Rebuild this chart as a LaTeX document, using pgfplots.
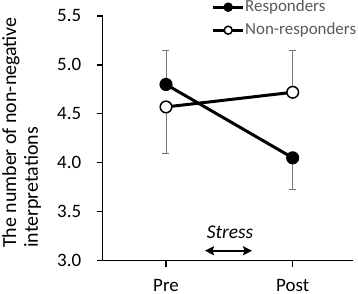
\documentclass[border=0pt]{standalone}
\usepackage{fontspec}
\setmainfont{Carlito}
\usepackage{pgfplots}
\pgfplotsset{compat=1.18}
\usetikzlibrary{arrows.meta}
\definecolor{lg}{HTML}{595959}
\definecolor{eb}{HTML}{777777}
\begin{document}
\begin{tikzpicture}
\begin{axis}[
  scale only axis, width=250.35bp, height=244.5bp,
  xmin=-0.5, xmax=1.476, ymin=3, ymax=5.5,
  axis lines*=left,
  axis line style={line width=1.5bp},
  xtick={0,1}, xticklabels={Pre,Post},
  ytick={3,3.5,4,4.5,5,5.5},
  tick align=outside, major tick length=6bp,
  tick style={line width=1.3bp, black},
  /pgf/number format/.cd, fixed, fixed zerofill, precision=1, assume math mode=true,
  /pgfplots/.cd,
  ticklabel style={font=\fontsize{19}{19}\selectfont},
  yticklabel style={xshift=-12bp},
  xticklabel style={yshift=-9bp},
  ylabel={The number of non-negative\\interpretations},
  ylabel style={align=left, font=\fontsize{20}{22}\selectfont, at={(axis description cs:-0.402,0.051)}, anchor=north west, inner sep=0pt},
  legend style={at={(axis description cs:0.4348,1.0716)}, anchor=north west, draw=none, fill=none, inner sep=0pt, font=\fontsize{17}{17}\selectfont, text=lg, nodes={inner sep=0.5bp, text height=12bp, text depth=4bp}, row sep=6bp},
  legend cell align=left,
  legend image code/.code={\draw[mark repeat=2, mark phase=2, #1, mark size=4bp] plot coordinates {(0bp,0bp) (15bp,0bp) (30bp,0bp)};},
]
\addplot[draw=none, forget plot, error bars/.cd, y dir=both, y explicit,
  error bar style={draw=eb, line width=0.9bp},
  error mark options={rotate=90, mark size=3.5bp, line width=0.9bp, draw=eb}]
  coordinates {(0,4.80) += (0,0.35) -= (0,0) (1,4.05) += (0,0) -= (0,0.32)};
\addplot[draw=none, forget plot, error bars/.cd, y dir=both, y explicit,
  error bar style={draw=eb, line width=0.9bp},
  error mark options={rotate=90, mark size=3.5bp, line width=0.9bp, draw=eb}]
  coordinates {(0,4.57) += (0,0) -= (0,0.48) (1,4.72) += (0,0.43) -= (0,0)};
\addplot[black, line width=3bp, mark=*, mark size=5.8bp, mark options={solid, fill=black, line width=1.5bp}] coordinates {(0,4.80) (1,4.05)};
\addlegendentry{Responders}
\addplot[black, line width=3bp, mark=*, mark size=5.8bp, mark options={solid, fill=white, line width=1.5bp}] coordinates {(0,4.57) (1,4.72)};
\addlegendentry{Non-responders}
\node[font=\fontsize{19.5}{19.5}\selectfont\itshape, anchor=base] at (axis cs:0.505,3.23) {Stress};
\draw[{Stealth[length=9bp,width=9bp,inset=1.5bp]}-{Stealth[length=9bp,width=9bp,inset=1.5bp]}, line width=2bp] (axis cs:0.308,3.10) -- (axis cs:0.679,3.10);
\end{axis}
\pgfresetboundingbox
\useasboundingbox (-102.65bp,-33.5bp) rectangle (255.35bp,260.5bp);
\end{tikzpicture}
\end{document}
